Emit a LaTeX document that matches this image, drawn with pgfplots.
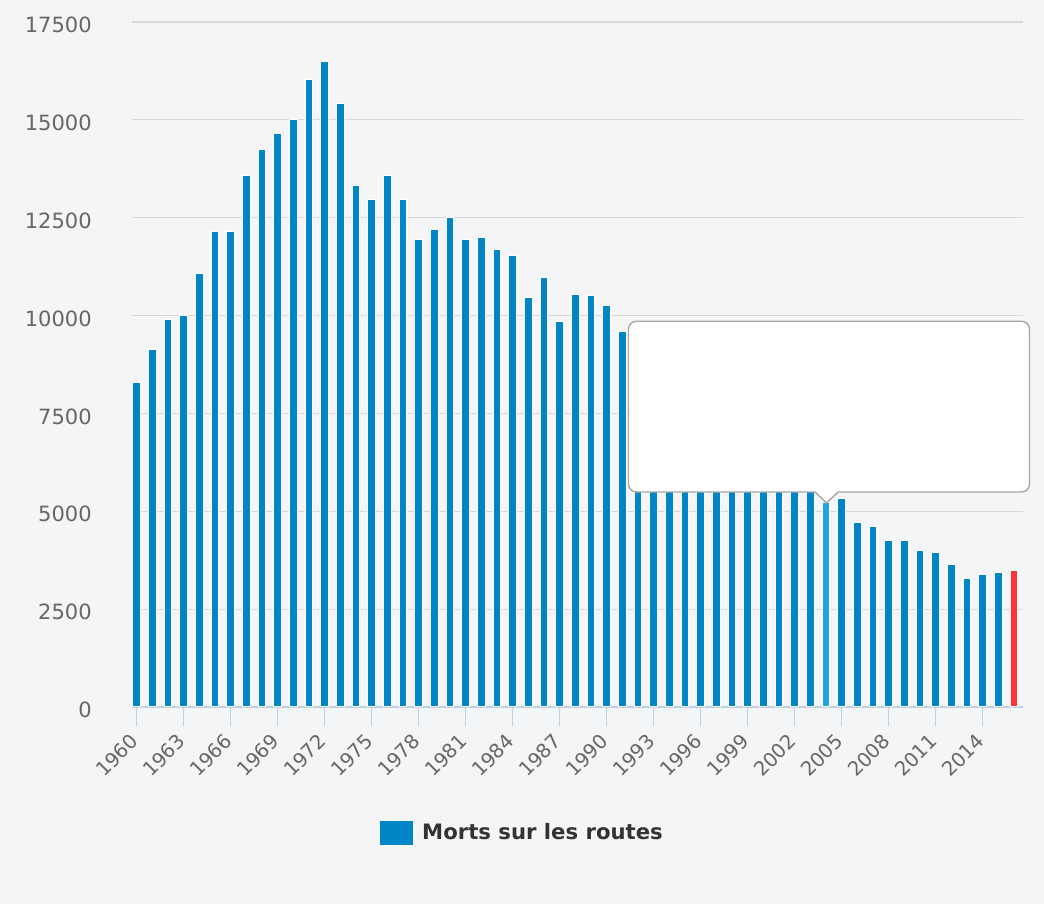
\documentclass[border=0pt]{standalone}
\usepackage{pgfplots}
\pgfplotsset{compat=1.18}
\usepackage{fontspec}
\setmainfont{DejaVu Sans}
\definecolor{bgcol}{RGB}{244,245,247}
\definecolor{barblue}{RGB}{0,133,198}
\definecolor{hoverblue}{RGB}{34,162,222}
\definecolor{barred}{RGB}{255,51,51}
\definecolor{gridcol}{RGB}{216,216,216}
\definecolor{axiscol}{RGB}{192,208,224}
\definecolor{labcol}{RGB}{102,102,102}
\definecolor{legcol}{RGB}{51,51,51}
\begin{document}
\begin{tikzpicture}
\fill[bgcol] (0,0) rectangle (522pt,452pt);
\begin{axis}[
  at={(65.85pt,98.5pt)}, anchor=south west,
  scale only axis, width=445.85pt, height=342.5pt,
  xmin=1959.68, xmax=2016.6, ymin=0, ymax=17500,
  clip=false,
  axis x line*=bottom, axis y line*=left,
  y axis line style={draw=none},
  x axis line style={draw=axiscol, line width=0.6pt},
  ytick={0,2500,...,17500},
  xtick={1960,1963,...,2014},
  scaled y ticks=false,
  ymajorgrids, grid style={gridcol, line width=0.6pt},
  ytick style={draw=none},
  xtick style={draw=axiscol, line width=0.6pt},
  tick align=outside, major tick length=9.3pt,
  /pgf/number format/assume math mode=true,
  /pgf/number format/1000 sep={},
  yticklabel={\pgfmathprintnumber[fixed,precision=0,1000 sep={}]{\tick}},
  yticklabel style={font=\fontsize{10.5}{12}\selectfont, text=labcol, anchor=east, xshift=-7.2pt, yshift=-1.5pt},
  xticklabel style={font=\fontsize{9.8}{12}\selectfont, text=labcol, rotate=45, anchor=east, yshift=-3.5pt, xshift=-1.5pt},
  legend style={at={(0.4394,-0.184)}, anchor=center, draw=none, fill=none,
    font=\fontsize{10.6}{12}\selectfont\bfseries, text=legcol},
  legend image code/.code={\fill[barblue] (0pt,-5.75pt) rectangle (16pt,5.75pt); \path (18.5pt,0pt);},
]
\addplot[ybar, bar width=0.48, bar shift=0pt, fill=barblue, draw=white, line width=0.5pt] coordinates {
(1960,8300) (1961,9130) (1962,9900) (1963,10000) (1964,11070) (1965,12150)
(1966,12150) (1967,13580) (1968,14240) (1969,14650) (1970,15000) (1971,16030)
(1972,16490) (1973,15420) (1974,13320) (1975,12960) (1976,13580) (1977,12960)
(1978,11940) (1979,12200) (1980,12500) (1981,11940) (1982,11990) (1983,11690)
(1984,11530) (1985,10450) (1986,10960) (1987,9850) (1988,10550) (1989,10510)
(1990,10260) (1991,9590) (1992,9080) (1993,9050) (1994,8530) (1995,8410)
(1996,8080) (1997,7990) (1998,8440) (1999,8030) (2000,7640) (2001,7720)
(2002,7240) (2003,5730) (2005,5320) (2006,4710) (2007,4610)
(2008,4260) (2009,4260) (2010,4000) (2011,3950) (2012,3640) (2013,3280)
(2014,3380) (2015,3430)
};
\addlegendentry{Morts sur les routes}
\addplot[ybar, bar width=0.48, bar shift=0pt, fill=hoverblue, draw=white, line width=0.5pt, forget plot] coordinates {(2004,5230)};
\addplot[ybar, bar width=0.48, bar shift=0pt, fill=barred, draw=white, line width=0.5pt, forget plot] coordinates {(2016,3480)};
\draw[draw=black!35, fill=white, line width=0.7pt, rounded corners=4pt]
  (axis cs:1991.39,5492) [sharp corners] -- (axis cs:2003.31,5492) -- (axis cs:2004.02,5212) -- (axis cs:2004.78,5492) [rounded corners=4pt] -- (axis cs:2016.99,5492) -- (axis cs:2016.99,9855) -- (axis cs:1991.39,9855) -- cycle;
\end{axis}
\end{tikzpicture}
\end{document}
